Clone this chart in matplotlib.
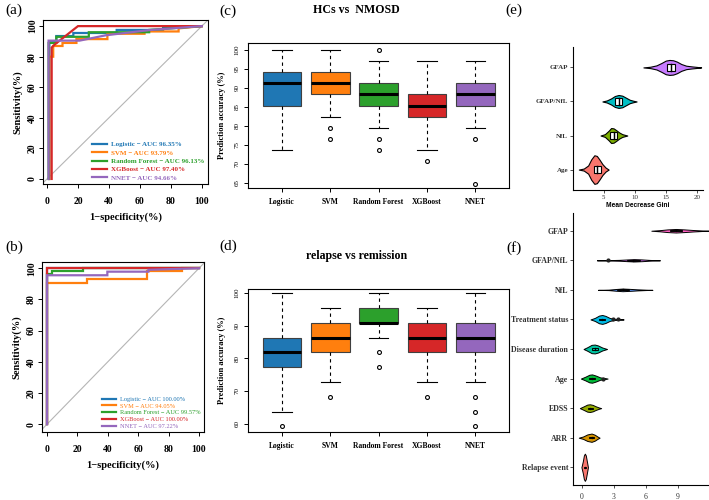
import matplotlib
matplotlib.use("Agg")
import matplotlib.pyplot as plt
from matplotlib.patches import Rectangle

W, H = 709, 500
SERIF = "Liberation Serif"
SANS = "Liberation Sans"
plt.rcParams["font.family"] = [SERIF, "DejaVu Serif"]

MODELS = ["Logistic", "SVM", "Random Forest", "XGBoost", "NNET"]
MODEL_COLORS = ["#1f77b4", "#ff7f0e", "#2ca02c", "#d62728", "#9467bd"]

# (a) ROC, HCs vs NMOSD
AUC_A = [96.35, 93.79, 96.13, 97.40, 94.66]
ROC_A_FPR = [
    [1.5, 1.5, 6, 6, 17, 17, 45, 45, 75, 75, 100],
    [1.5, 1.5, 4, 4, 10, 10, 19, 19, 39, 39, 63, 63, 85, 85, 100],
    [1, 1, 6, 6, 27, 27, 66, 66, 100],
    [3, 3, 5, 20, 100],
    [1, 1, 21, 38, 66, 100],
]
ROC_A_TPR = [
    [0, 90, 90, 93.5, 93.5, 95.5, 95.5, 97.5, 97.5, 99, 100],
    [0, 80, 80, 87, 87, 89, 89, 91.5, 91.5, 95, 95, 96.5, 96.5, 98.5, 100],
    [0, 89, 89, 93, 93, 96, 96, 97.5, 100],
    [0, 86, 88, 100, 100],
    [0, 90.5, 90.5, 94, 97.4, 100],
]

# (b) ROC, relapse vs remission
AUC_B = [100.00, 94.05, 99.57, 100.00, 97.22]
ROC_B_FPR = [
    [0, 0, 100],
    [0, 0, 26.5, 26.5, 66, 66, 88.6, 88.6, 100],
    [0, 0, 3, 3, 23.5, 23.5, 100],
    [0, 0, 100],
    [0, 0, 39.7, 39.7, 66.7, 66.7, 100],
]
ROC_B_TPR = [
    [0, 100, 100],
    [0, 90.7, 90.7, 93.3, 93.3, 98.5, 98.5, 100, 100],
    [0, 96, 96, 98, 98, 100, 100],
    [0, 100, 100],
    [0, 95.5, 95.5, 97.8, 97.8, 99, 100],
]

# (c) prediction accuracy, HCs vs NMOSD
C_WHISLO = [73.53, 82.35, 79.41, 73.53, 79.41]
C_Q1 = [85.29, 88.24, 85.29, 82.35, 85.29]
C_MED = [91.18, 91.18, 88.24, 85.29, 88.24]
C_Q3 = [94.12, 94.12, 91.18, 88.24, 91.18]
C_WHISHI = [100, 100, 97.06, 97.06, 97.06]
C_FLIERS = [[], [79.41, 76.47], [100, 76.47, 73.53], [70.59], [76.47, 64.71]]

# (d) prediction accuracy, relapse vs remission
D_WHISLO = [63.64, 72.73, 86.36, 72.73, 72.73]
D_Q1 = [77.27, 81.82, 90.91, 81.82, 81.82]
D_MED = [81.82, 86.36, 90.91, 86.36, 86.36]
D_Q3 = [86.36, 90.91, 95.45, 90.91, 90.91]
D_WHISHI = [100, 95.45, 100, 95.45, 100]
D_FLIERS = [[59.09], [68.18], [81.82, 77.27], [68.18], [68.18, 63.64, 59.09]]

# (e) Mean Decrease Gini violins (bottom to top)
E_FEATURES = ["Age", "NfL", "GFAP/NfL", "GFAP"]
E_COLORS = ["#F8766D", "#7CAE00", "#00BFC4", "#C77CFF"]
E_X = [
    [1.0, 1.8, 2.5, 3.0, 3.5, 3.9, 4.3, 4.8, 5.3, 5.8],
    [4.5, 5.2, 5.8, 6.2, 6.6, 7.0, 7.5, 8.0, 8.8],
    [4.8, 5.5, 6.2, 6.8, 7.4, 8.0, 8.6, 9.2, 9.8, 10.3],
    [11.4, 12.5, 13.5, 14.3, 15.0, 15.6, 16.2, 16.8, 17.5, 18.3, 19.2, 20.0, 20.7],
]
E_HALF = [
    [0, 0.03, 0.12, 0.30, 0.42, 0.40, 0.30, 0.16, 0.06, 0],
    [0, 0.04, 0.14, 0.22, 0.21, 0.16, 0.09, 0.04, 0],
    [0, 0.03, 0.09, 0.16, 0.19, 0.17, 0.11, 0.05, 0.02, 0],
    [0, 0.02, 0.06, 0.13, 0.20, 0.22, 0.21, 0.17, 0.10, 0.05, 0.03, 0.015, 0],
]
E_BOX = [(3.4, 3.9, 4.5), (6.1, 6.6, 7.2), (6.9, 7.4, 8.0), (15.2, 15.9, 16.5)]

# (f) importance violins (bottom to top)
F_FEATURES = ["Relapse event", "ARR", "EDSS", "Age", "Disease duration",
              "Treatment status", "NfL", "GFAP/NfL", "GFAP"]
F_COLORS = ["#F8766D", "#D39200", "#93AA00", "#00BA38", "#00C19F",
            "#00B9E3", "#619CFF", "#DB72FB", "#FF61C3"]
F_X = [
    [-0.05, 0.08, 0.18, 0.27, 0.36, 0.46, 0.56],
    [-0.3, 0.1, 0.5, 0.9, 1.2, 1.45, 1.65],
    [-0.2, 0.1, 0.5, 0.75, 1.0, 1.3, 1.6, 1.8],
    [-0.1, 0.3, 0.7, 0.95, 1.3, 1.7, 2.1, 2.4],
    [0.15, 0.5, 0.9, 1.2, 1.5, 1.9, 2.35],
    [0.8, 1.2, 1.6, 1.9, 2.2, 2.6, 3.0, 3.4, 3.9],
    [1.5, 2.5, 3.2, 3.8, 4.4, 5.2, 6.0, 6.6],
    [1.4, 2.5, 3.5, 4.3, 4.9, 5.6, 6.4, 7.3],
    [6.5, 7.3, 8.0, 8.8, 9.6, 10.4, 11.2, 11.9],
]
F_HALF = [
    [0, 0.20, 0.40, 0.46, 0.40, 0.20, 0],
    [0, 0.04, 0.11, 0.14, 0.10, 0.04, 0],
    [0, 0.05, 0.12, 0.13, 0.11, 0.06, 0.02, 0],
    [0, 0.06, 0.13, 0.14, 0.10, 0.04, 0.02, 0],
    [0, 0.06, 0.14, 0.15, 0.12, 0.05, 0],
    [0, 0.05, 0.13, 0.15, 0.12, 0.05, 0.02, 0.015, 0],
    [0, 0.008, 0.03, 0.045, 0.035, 0.018, 0.006, 0],
    [0, 0.006, 0.015, 0.03, 0.04, 0.03, 0.012, 0],
    [0, 0.02, 0.045, 0.06, 0.045, 0.025, 0.01, 0],
]
F_BOX = [(0.2, 0.27, 0.34), (0.65, 0.9, 1.1), (0.55, 0.75, 1.0), (0.7, 0.95, 1.2),
         (0.9, 1.2, 1.5), (1.6, 1.9, 2.2), (3.3, 3.8, 4.4), (4.2, 4.8, 5.4), (8.2, 8.8, 9.4)]
F_OUTLIERS = [[], [], [], [2.0], [], [2.9, 3.4], [], [2.4], []]


def rect(l, t, r, b):
    return [l / W, 1 - b / H, (r - l) / W, (b - t) / H]


def fxy(x, y):
    return x / W, 1 - y / H


def style_box_axes(ax):
    for s in ax.spines.values():
        s.set_linewidth(0.8)
    ax.tick_params(direction="out", length=3, width=0.7, colors="black")


def draw_roc(ax, fprs, tprs, aucs, xlim, ylim, legend_bold):
    ax.plot([-10, 110], [-10, 110], color="#b5b5b5", lw=0.8, zorder=1)
    for name, fpr, tpr, auc, color in zip(MODELS, fprs, tprs, aucs, MODEL_COLORS):
        ax.plot(fpr, tpr, color=color, lw=1.6, label=f"{name} \u2212 AUC {auc:.2f}%",
                solid_joinstyle="miter")
    ax.set_xlim(xlim)
    ax.set_ylim(ylim)
    ax.set_xticks(range(0, 101, 20))
    ax.set_yticks(range(0, 101, 20))
    style_box_axes(ax)
    ax.tick_params(axis="x", pad=6, labelsize=7)
    ax.tick_params(axis="y", pad=1.5, labelsize=7)
    for lab in ax.get_xticklabels() + ax.get_yticklabels():
        lab.set_fontweight("bold")
    for lab in ax.get_yticklabels():
        lab.set_rotation(90)
        lab.set_va("center")
    ax.set_ylabel("Sensitivity(%)", fontsize=7.5, fontweight="bold", labelpad=4)
    ax.set_xlabel("1\u2212specificity(%)", fontsize=7.5, fontweight="bold", labelpad=5)
    size = 5 if legend_bold else 4.6
    ax.legend(loc="lower right", frameon=False, labelcolor="linecolor",
              prop={"family": SERIF, "size": size, "weight": "bold" if legend_bold else "normal"},
              handlelength=2.2, handletextpad=0.6, labelspacing=0.35 if legend_bold else 0.2,
              borderpad=0.2, borderaxespad=0.3)


def draw_box(ax, whislo, q1, med, q3, whishi, fliers, yticks, ylim):
    stats = [dict(whislo=a, q1=b, med=c, q3=d, whishi=e, fliers=f)
             for a, b, c, d, e, f in zip(whislo, q1, med, q3, whishi, fliers)]
    pos = list(range(1, len(MODELS) + 1))
    bp = ax.bxp(stats, positions=pos, widths=0.8, patch_artist=True, capwidths=0.4,
                boxprops=dict(edgecolor="#404040", linewidth=0.8),
                whiskerprops=dict(color="black", linewidth=0.8, linestyle=(0, (3, 3))),
                capprops=dict(color="black", linewidth=0.8),
                medianprops=dict(color="black", linewidth=2.2, solid_capstyle="butt"),
                flierprops=dict(marker="o", markerfacecolor="none", markeredgecolor="black",
                                markersize=2.8, markeredgewidth=0.8))
    for patch, color in zip(bp["boxes"], MODEL_COLORS):
        patch.set_facecolor(color)
    ax.set_xlim(0.3, 5.7)
    ax.set_ylim(ylim)
    ax.set_xticks(pos)
    ax.set_xticklabels(MODELS, fontsize=5.5, fontweight="bold")
    ax.set_yticks(yticks)
    ax.set_yticklabels([str(v) for v in yticks], fontsize=5, rotation=90, va="center")
    style_box_axes(ax)
    ax.tick_params(axis="x", pad=4)
    ax.tick_params(axis="y", pad=3)
    ax.set_ylabel("Prediction accuracy (%)", fontsize=6, fontweight="bold", labelpad=6)


def draw_violins(ax, xs_list, half_list, colors, boxes, bh, lw, box_fill):
    for i, (xs, half, color, box) in enumerate(zip(xs_list, half_list, colors, boxes)):
        y0 = i + 1
        ax.fill_between(xs, [y0 - h for h in half], [y0 + h for h in half],
                        facecolor=color, edgecolor="black", linewidth=lw, zorder=2)
        lo, md, hi = box
        ax.add_patch(Rectangle((lo, y0 - bh), hi - lo, 2 * bh, facecolor=box_fill or color,
                               edgecolor="black", linewidth=lw, zorder=3))
        ax.plot([md, md], [y0 - bh, y0 + bh], color="black", lw=lw * 1.3, zorder=4)


def style_gg(ax, labels, xticks, xlim, ylim, lab_size, tick_size):
    ax.set_xlim(xlim)
    ax.set_ylim(ylim)
    ax.spines["top"].set_visible(False)
    ax.spines["right"].set_visible(False)
    for s in ("left", "bottom"):
        ax.spines[s].set_linewidth(0.8)
    ax.set_yticks(range(1, len(labels) + 1))
    ax.set_yticklabels(labels, fontsize=lab_size, fontweight="bold", color="#333333")
    ax.set_xticks(xticks)
    ax.set_xticklabels([str(v) for v in xticks], fontsize=tick_size, color="#333333")
    ax.tick_params(direction="out", length=2, width=0.6, pad=1.5, colors="#333333")


fig = plt.figure(figsize=(W / 100, H / 100), dpi=100)

ax_a = fig.add_axes(rect(43, 20, 208, 184))
draw_roc(ax_a, ROC_A_FPR, ROC_A_TPR, AUC_A, (-2.6, 104), (-3.3, 104), True)

ax_b = fig.add_axes(rect(42, 262, 204, 432))
draw_roc(ax_b, ROC_B_FPR, ROC_B_TPR, AUC_B, (-3.3, 103.3), (-5, 104), False)

ax_c = fig.add_axes(rect(248, 43, 509, 188))
draw_box(ax_c, C_WHISLO, C_Q1, C_MED, C_Q3, C_WHISHI, C_FLIERS,
         list(range(65, 101, 5)), (63.6, 101.8))

ax_d = fig.add_axes(rect(248, 289, 509, 432))
draw_box(ax_d, D_WHISLO, D_Q1, D_MED, D_Q3, D_WHISHI, D_FLIERS,
         list(range(60, 101, 10)), (57.4, 101.3))

ax_e = fig.add_axes(rect(573, 47, 703, 190))
draw_violins(ax_e, E_X, E_HALF, E_COLORS, E_BOX, 0.11, 0.8, "white")
style_gg(ax_e, E_FEATURES, [5, 10, 15, 20], (0.06, 21), (0.4, 4.6), 5, 5)
ax_e.set_xlabel("Mean Decrease Gini", fontsize=4.8, fontweight="bold",
                family=SANS, labelpad=1.5)

ax_f = fig.add_axes(rect(573, 213, 709, 485))
draw_violins(ax_f, F_X, F_HALF, F_COLORS, F_BOX, 0.02, 0.7, None)
for i, pts in enumerate(F_OUTLIERS):
    ax_f.plot(pts, [i + 1] * len(pts), "o", color="#222222", ms=2, zorder=5)
style_gg(ax_f, F_FEATURES, [0, 3, 6, 9], (-0.84, 11.9), (0.4, 9.6), 5.7, 5.5)
ax_f.tick_params(axis="x", pad=4)

# titles and panel letters
fig.text(*fxy(356.7, 10), "HCs vs  NMOSD", fontsize=8.6, fontweight="bold",
         ha="center", va="center")
fig.text(*fxy(356.7, 256), "relapse vs remission", fontsize=8.6, fontweight="bold",
         ha="center", va="center")
for letter, x, y in [("(a)", 14, 10), ("(b)", 14, 247), ("(c)", 228, 11),
                     ("(d)", 228, 246.5), ("(e)", 514, 10), ("(f)", 514, 248)]:
    fig.text(*fxy(x, y), letter, fontsize=11, ha="center", va="center")

fig.savefig("out.png", dpi=100, facecolor="white")
